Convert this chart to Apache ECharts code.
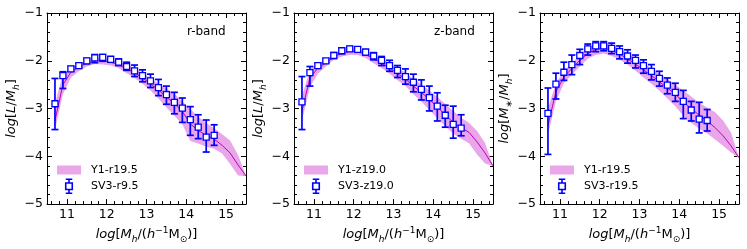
<!DOCTYPE html>
<html><head><meta charset="utf-8">
<script src="https://cdn.jsdelivr.net/npm/echarts@6/dist/echarts.min.js"></script>
<style>html,body{margin:0;padding:0;background:#fff}#c{width:747px;height:249px}</style>
</head><body><div id="c"></div>
<script>
// ---------- data ----------
const xTicks = [11, 12, 13, 14, 15];
const yTicks = [-5, -4, -3, -2, -1];
const xMinorTicks = [10.6, 10.8, 11.2, 11.4, 11.6, 11.8, 12.2, 12.4, 12.6, 12.8, 13.2, 13.4, 13.6, 13.8, 14.2, 14.4, 14.6, 14.8, 15.2, 15.4];

const xBins = [10.7, 10.9, 11.1, 11.3, 11.5, 11.7, 11.9, 12.1, 12.3, 12.5, 12.7, 12.9, 13.1, 13.3, 13.5, 13.7, 13.9, 14.1, 14.3, 14.5, 14.7];
const bandX = [10.7, 10.9, 11.1, 11.3, 11.5, 11.7, 11.9, 12.1, 12.3, 12.5, 12.7, 12.9, 13.1, 13.3, 13.5, 13.7, 13.9, 14.1, 14.3, 14.5, 14.7, 14.9, 15.1, 15.3, 15.5];

// panel 1: r-band
const rSV3     = [-2.90, -2.31, -2.17, -2.10, -2.00, -1.94, -1.93, -1.97, -2.03, -2.12, -2.21, -2.31, -2.42, -2.56, -2.71, -2.87, -2.99, -3.23, -3.39, -3.60, -3.56];
const rSV3Hi   = [-2.37, -2.23, -2.12, -2.05, -1.95, -1.87, -1.87, -1.91, -1.96, -2.03, -2.09, -2.19, -2.28, -2.39, -2.53, -2.66, -2.78, -2.96, -3.13, -3.24, -3.34];
const rSV3Lo   = [-3.44, -2.58, -2.22, -2.14, -2.06, -2.04, -2.01, -2.03, -2.10, -2.20, -2.33, -2.44, -2.56, -2.73, -2.91, -3.11, -3.29, -3.56, -3.63, -3.91, -3.77];
const rY1Line  = [-3.25, -2.50, -2.24, -2.13, -2.05, -2.00, -2.00, -2.03, -2.08, -2.17, -2.25, -2.36, -2.48, -2.61, -2.76, -2.90, -3.06, -3.32, -3.46, -3.56, -3.64, -3.77, -3.93, -4.18, -4.41];
const rY1Upper = [-2.90, -2.28, -2.14, -2.06, -1.98, -1.94, -1.94, -1.96, -2.01, -2.08, -2.15, -2.26, -2.36, -2.48, -2.58, -2.69, -2.85, -3.01, -3.17, -3.30, -3.41, -3.54, -3.67, -3.97, -4.41];
const rY1Lower = [-3.45, -2.70, -2.35, -2.22, -2.12, -2.07, -2.08, -2.10, -2.15, -2.26, -2.36, -2.48, -2.62, -2.79, -2.98, -3.15, -3.33, -3.68, -3.73, -3.80, -3.84, -3.94, -4.16, -4.40, -4.41];

// panel 2: z-band
const zSV3     = [-2.86, -2.25, -2.10, -2.00, -1.89, -1.79, -1.75, -1.76, -1.82, -1.90, -1.99, -2.10, -2.20, -2.33, -2.45, -2.60, -2.77, -2.95, -3.14, -3.33, -3.41];
const zSV3Hi   = [-2.33, -2.12, -2.06, -1.96, -1.83, -1.73, -1.70, -1.71, -1.76, -1.83, -1.91, -1.99, -2.10, -2.17, -2.28, -2.40, -2.53, -2.67, -2.93, -2.95, -3.13];
const zSV3Lo   = [-3.44, -2.53, -2.14, -2.04, -1.95, -1.85, -1.80, -1.82, -1.88, -1.98, -2.10, -2.22, -2.35, -2.49, -2.65, -2.82, -3.05, -3.26, -3.39, -3.62, -3.57];
const zY1Line  = [-3.05, -2.36, -2.15, -2.05, -1.92, -1.84, -1.80, -1.81, -1.87, -1.96, -2.05, -2.15, -2.27, -2.38, -2.53, -2.66, -2.81, -2.97, -3.13, -3.29, -3.40, -3.50, -3.70, -3.93, -4.20];
const zY1Upper = [-2.75, -2.19, -2.05, -1.98, -1.86, -1.77, -1.74, -1.75, -1.81, -1.88, -1.96, -2.05, -2.15, -2.25, -2.38, -2.49, -2.62, -2.76, -2.90, -3.05, -3.19, -3.30, -3.47, -3.72, -4.20];
const zY1Lower = [-3.25, -2.55, -2.27, -2.12, -1.98, -1.91, -1.88, -1.88, -1.94, -2.05, -2.15, -2.27, -2.41, -2.53, -2.70, -2.85, -3.03, -3.20, -3.37, -3.53, -3.63, -3.73, -3.96, -4.15, -4.20];

// panel 3: stellar mass
const mSV3     = [-3.10, -2.49, -2.24, -2.08, -1.89, -1.75, -1.69, -1.69, -1.74, -1.81, -1.90, -1.99, -2.10, -2.22, -2.37, -2.51, -2.66, -2.85, -3.03, -3.22, -3.25];
const mSV3Hi   = [-2.57, -2.26, -2.03, -1.88, -1.76, -1.65, -1.60, -1.60, -1.63, -1.69, -1.77, -1.88, -1.98, -2.08, -2.22, -2.36, -2.47, -2.62, -2.85, -2.87, -3.02];
const mSV3Lo   = [-3.96, -2.80, -2.41, -2.29, -2.08, -1.88, -1.81, -1.79, -1.85, -1.96, -2.05, -2.15, -2.26, -2.40, -2.53, -2.69, -2.85, -3.21, -3.26, -3.51, -3.47];
const mY1Line  = [-3.35, -2.65, -2.34, -2.16, -1.99, -1.85, -1.76, -1.74, -1.78, -1.86, -1.96, -2.07, -2.19, -2.31, -2.44, -2.57, -2.70, -2.86, -3.00, -3.14, -3.26, -3.40, -3.57, -3.78, -4.03];
const mY1Upper = [-3.00, -2.47, -2.22, -2.05, -1.88, -1.74, -1.65, -1.63, -1.67, -1.74, -1.84, -1.94, -2.05, -2.16, -2.27, -2.38, -2.50, -2.62, -2.75, -2.88, -2.98, -3.08, -3.25, -3.50, -4.03];
const mY1Lower = [-3.55, -2.85, -2.47, -2.29, -2.12, -1.96, -1.88, -1.85, -1.90, -1.98, -2.08, -2.21, -2.35, -2.48, -2.63, -2.79, -2.95, -3.15, -3.30, -3.42, -3.52, -3.65, -3.78, -3.92, -4.03];

const bandNames = ['Y1-r19.5', 'Y1-z19.0', 'Y1-r19.5'];
const pointNames = ['SV3-r9.5', 'SV3-z19.0', 'SV3-r19.5'];
const panelTags = ['r-band', 'z-band', ''];

// ---------- styles ----------
const BLUE = '#0000ff';
const BAND = '#e9a6e9';
const LINEC = '#bf00bf';
const FONT = 'DejaVu Sans';

const panels = [
  {left: 47,  pts: rSV3, hi: rSV3Hi, lo: rSV3Lo, line: rY1Line, up: rY1Upper, dn: rY1Lower, yName: '{a|log}{r|[}{a|L}{r|/}{a|M}{s|h}{r|]}'},
  {left: 294, pts: zSV3, hi: zSV3Hi, lo: zSV3Lo, line: zY1Line, up: zY1Upper, dn: zY1Lower, yName: '{a|log}{r|[}{a|L}{r|/}{a|M}{s|h}{r|]}'},
  {left: 540, pts: mSV3, hi: mSV3Hi, lo: mSV3Lo, line: mY1Line, up: mY1Upper, dn: mY1Lower, yName: '{a|log}{r|[}{a|M}{rs|∗}{r|/}{a|M}{s|h}{r|]}'}
];
const xName = '{a|log}{r|[}{a|M}{s|h}{r|/(}{a|h}{p|−1}{r|M}{rs|⊙}{r|)]}';

const rich = {
  a:  {fontFamily: FONT, fontSize: 13, fontStyle: 'italic', color: '#000', lineHeight: 18},
  r:  {fontFamily: FONT, fontSize: 13, color: '#000', lineHeight: 18},
  s:  {fontFamily: FONT, fontSize: 9, fontStyle: 'italic', color: '#000', lineHeight: 9, verticalAlign: 'bottom'},
  rs: {fontFamily: FONT, fontSize: 9, color: '#000', lineHeight: 9, verticalAlign: 'bottom'},
  p:  {fontFamily: FONT, fontSize: 9, color: '#000', lineHeight: 9, verticalAlign: 'top'}
};
const fmt = v => (v < 0 ? '−' + Math.abs(v) : String(v));
const ERR_ICON = 'path://M0,0H7M3.5,0V4M0,4H7V11H0ZM3.5,11V15M0,15H7';

const grids = [], xAxes = [], yAxes = [], series = [], legends = [], titles = [];

panels.forEach((p, gi) => {
  grids.push({left: p.left, top: 13, width: 199, height: 192});
  const xb = {type: 'value', gridIndex: gi, min: 10.5, max: 15.5, splitLine: {show: false},
              axisLine: {onZero: false, lineStyle: {color: '#000', width: 1}}};
  const tick = (vals, len) => ({inside: true, length: len, customValues: vals, lineStyle: {color: '#000', width: 1}});
  xAxes.push(Object.assign({}, xb, {position: 'bottom', axisTick: tick(xTicks, 5),
    axisLabel: {customValues: xTicks, fontSize: 12.5, fontFamily: FONT, color: '#000', margin: 4, formatter: fmt},
    name: xName, nameLocation: 'middle', nameGap: 19, nameTextStyle: {rich: rich}}));
  xAxes.push(Object.assign({}, xb, {position: 'bottom', axisLine: {show: false, onZero: false}, axisTick: tick(xMinorTicks, 3), axisLabel: {show: false}}));
  xAxes.push(Object.assign({}, xb, {position: 'top', axisTick: tick(xTicks, 5), axisLabel: {show: false}}));
  xAxes.push(Object.assign({}, xb, {position: 'top', axisLine: {show: false, onZero: false}, axisTick: tick(xMinorTicks, 3), axisLabel: {show: false}}));

  const yb = {type: 'value', gridIndex: gi, min: yTicks[0], max: yTicks[yTicks.length - 1], interval: 1,
              splitLine: {show: false}, axisLine: {onZero: false, lineStyle: {color: '#000', width: 1}},
              axisTick: {inside: true, length: 5, lineStyle: {color: '#000', width: 1}},
              minorTick: {show: true, splitNumber: 5, length: 3, lineStyle: {color: '#000', width: 1}}};
  yAxes.push(Object.assign({}, yb, {position: 'left',
    axisLabel: {fontSize: 12.5, fontFamily: FONT, color: '#000', margin: 4, formatter: fmt},
    name: p.yName, nameLocation: 'middle', nameRotate: 90, nameGap: 20, nameTextStyle: {rich: rich}}));
  yAxes.push(Object.assign({}, yb, {position: 'right', axisLabel: {show: false}}));

  const xi = gi * 4, yi = gi * 2;
  const bandRows = bandX.map((x, i) => [x, p.dn[i], p.up[i]]);
  series.push({
    type: 'custom', name: bandNames[gi], xAxisIndex: xi, yAxisIndex: yi, silent: true, z: 1,
    itemStyle: {color: BAND},
    encode: {x: 0, y: [1, 2]},
    data: bandRows,
    renderItem: function (params, api) {
      if (params.dataIndex !== 0) return null;
      const pts = [];
      for (let i = 0; i < bandRows.length; i++) pts.push(api.coord([bandRows[i][0], bandRows[i][2]]));
      for (let i = bandRows.length - 1; i >= 0; i--) pts.push(api.coord([bandRows[i][0], bandRows[i][1]]));
      return {type: 'polygon', shape: {points: pts}, style: {fill: BAND}};
    }
  });
  series.push({
    type: 'line', name: bandNames[gi] + ' line', xAxisIndex: xi, yAxisIndex: yi, z: 2, silent: true,
    showSymbol: false, symbol: 'none', lineStyle: {color: LINEC, width: 1}, itemStyle: {color: LINEC},
    data: bandX.map((x, i) => [x, p.line[i]])
  });
  series.push({
    type: 'custom', name: pointNames[gi], xAxisIndex: xi, yAxisIndex: yi, z: 3, silent: true,
    itemStyle: {color: BLUE},
    encode: {x: 0, y: [1, 2]},
    data: xBins.map((x, i) => [x, p.lo[i], p.hi[i]]),
    renderItem: function (params, api) {
      const x = api.value(0);
      const a = api.coord([x, api.value(2)]), b = api.coord([x, api.value(1)]);
      const cw = 3.5, st = {stroke: BLUE, lineWidth: 1.7};
      return {type: 'group', children: [
        {type: 'line', shape: {x1: a[0], y1: a[1], x2: b[0], y2: b[1]}, style: st},
        {type: 'line', shape: {x1: a[0] - cw, y1: a[1], x2: a[0] + cw, y2: a[1]}, style: st},
        {type: 'line', shape: {x1: b[0] - cw, y1: b[1], x2: b[0] + cw, y2: b[1]}, style: st}
      ]};
    }
  });
  series.push({
    type: 'scatter', name: pointNames[gi], xAxisIndex: xi, yAxisIndex: yi, z: 4, silent: true,
    symbol: 'rect', symbolSize: 6,
    itemStyle: {color: '#ffffff', borderColor: BLUE, borderWidth: 1.3, opacity: 1},
    data: xBins.map((x, i) => [x, p.pts[i]])
  });

  legends.push({
    orient: 'vertical', left: p.left + 10, top: 164.5, itemWidth: 24, itemHeight: 14, itemGap: 3,
    selectedMode: false, padding: 0,
    textStyle: {fontFamily: FONT, fontSize: 11, color: '#000', padding: [0, 0, 0, 5]},
    data: [
      {name: bandNames[gi], icon: 'path://M0,0H24V9H0Z', itemStyle: {color: BAND, borderWidth: 0}},
      {name: pointNames[gi], icon: ERR_ICON, itemStyle: {color: '#ffffff', borderColor: BLUE, borderWidth: 1.6}}
    ]
  });
  if (panelTags[gi]) {
    titles.push({text: panelTags[gi], left: p.left + 140, top: 26, padding: 0,
      textStyle: {fontFamily: FONT, fontSize: 12, fontWeight: 'normal', color: '#000'}});
  }
});

const chart = echarts.init(document.getElementById('c'), null, {renderer: 'canvas'});
chart.setOption({
  animation: false,
  backgroundColor: '#ffffff',
  title: titles,
  legend: legends,
  grid: grids,
  xAxis: xAxes,
  yAxis: yAxes,
  series: series
});
</script>
</body></html>
